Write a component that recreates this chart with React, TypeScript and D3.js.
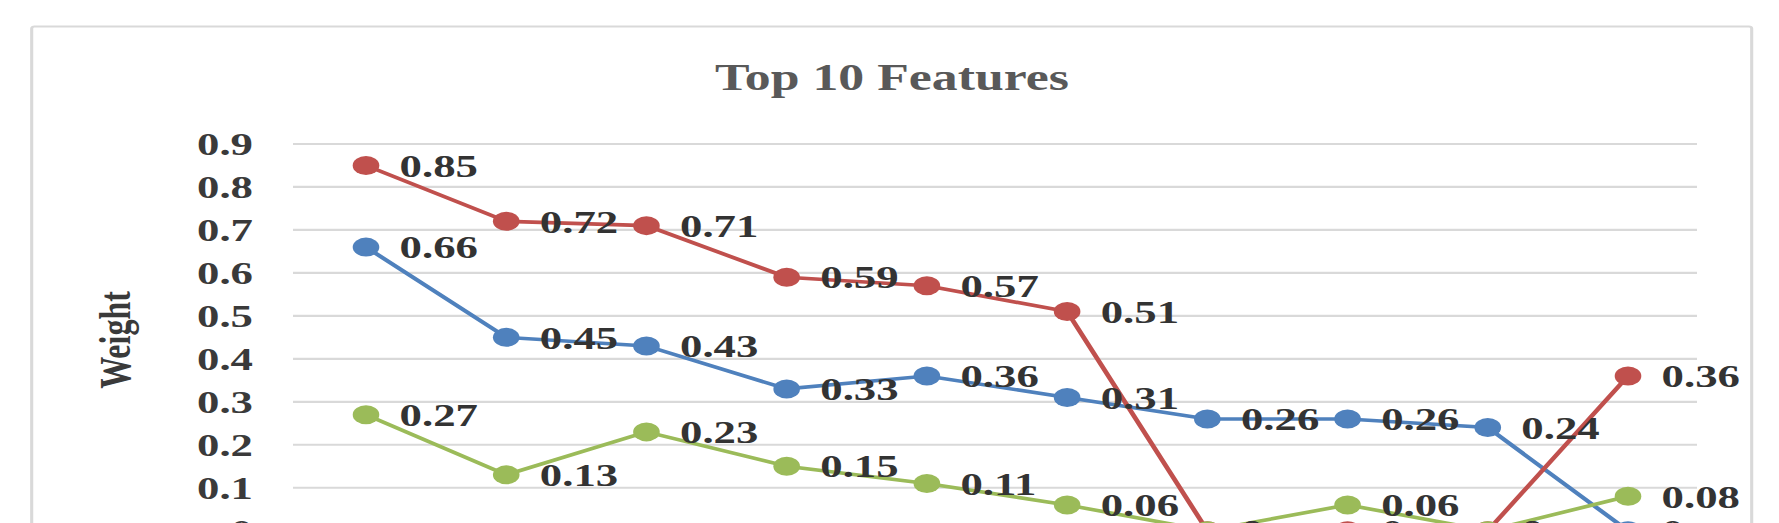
import React from 'react';
import * as d3 from 'd3';

const categories = ['F1', 'F2', 'F3', 'F4', 'F5', 'F6', 'F7', 'F8', 'F9', 'F10'];
const blueValues = [0.66, 0.45, 0.43, 0.33, 0.36, 0.31, 0.26, 0.26, 0.24, 0];
const redValues = [0.85, 0.72, 0.71, 0.59, 0.57, 0.51, 0, 0, 0, 0.36];
const greenValues = [0.27, 0.13, 0.23, 0.15, 0.11, 0.06, 0, 0.06, 0, 0.08];
const yTicks = [0, 0.1, 0.2, 0.3, 0.4, 0.5, 0.6, 0.7, 0.8, 0.9];
const tickLabels = ['0', '0.1', '0.2', '0.3', '0.4', '0.5', '0.6', '0.7', '0.8', '0.9'];

const seriesList = [
  { name: 'blue', values: blueValues, color: '#4f81bd' },
  { name: 'red', values: redValues, color: '#c0504d' },
  { name: 'green', values: greenValues, color: '#9bbb59' },
];

const W = 1779;
const H = 523;
const SX = 1.4; // horizontal stretch of the original picture
const IW = W / SX;

const plotLeft = 293 / SX;
const plotRight = 1697 / SX;
const plotTop = 144;
const plotBottom = 530.7;

export default function App() {
  const x = d3.scalePoint<string>().domain(categories).range([366 / SX, 1628 / SX]);
  const y = d3.scaleLinear().domain([0, 0.9]).range([plotBottom, plotTop]);
  const line = d3
    .line<number>()
    .x((_, i) => x(categories[i]) as number)
    .y((d) => y(d));

  const font = '"Liberation Serif", "Times New Roman", serif';

  return (
    <svg
      width={W}
      height={H}
      style={{ position: 'absolute', left: 0, top: 0, background: '#fff' }}
    >
      <g transform={`scale(${SX},1)`}>
        <rect x={0} y={0} width={IW} height={H} fill="#fff" />
        <rect
          x={31.7 / SX}
          y={26.5}
          width={(1751.7 - 31.7) / SX}
          height={700}
          rx={2}
          fill="#fff"
          stroke="#d9d9d9"
          strokeWidth={2.2}
        />
        <text
          x={892 / SX}
          y={90}
          textAnchor="middle"
          fontFamily={font}
          fontWeight="bold"
          fontSize={37}
          fill="#595959"
        >
          Top 10 Features
        </text>
        {yTicks.map((t, i) => (
          <g key={'g' + i}>
            {t > 0 && (
              <line
                x1={plotLeft}
                x2={plotRight}
                y1={y(t)}
                y2={y(t)}
                stroke="#d9d9d9"
                strokeWidth={2.2}
              />
            )}
            <text
              x={253 / SX}
              y={y(t)}
              dy="0.35em"
              textAnchor="end"
              fontFamily={font}
              fontWeight="bold"
              fontSize={32}
              fill="#3a3a3a"
            >
              {tickLabels[i]}
            </text>
          </g>
        ))}
        <text
          transform={`translate(${114 / SX},${340}) rotate(-90)`}
          textAnchor="middle"
          dy="0.35em"
          fontFamily={font}
          fontWeight="bold"
          fontSize={32}
          fill="#3a3a3a"
        >
          Weight
        </text>
        {seriesList.map((s) => (
          <g key={s.name}>
            <path d={line(s.values) || ''} fill="none" stroke={s.color} strokeWidth={3.6} />
            {s.values.map((v, i) => (
              <circle key={i} cx={x(categories[i])} cy={y(v)} r={9.5} fill={s.color} />
            ))}
          </g>
        ))}
        {seriesList.map((s) => (
          <g key={'l' + s.name}>
            {s.values.map((v, i) => (
              <text
                key={i}
                x={(x(categories[i]) as number) + 24}
                y={y(v)}
                dy="0.35em"
                fontFamily={font}
                fontWeight="bold"
                fontSize={32}
                fill="#333"
              >
                {String(v)}
              </text>
            ))}
          </g>
        ))}
      </g>
    </svg>
  );
}
